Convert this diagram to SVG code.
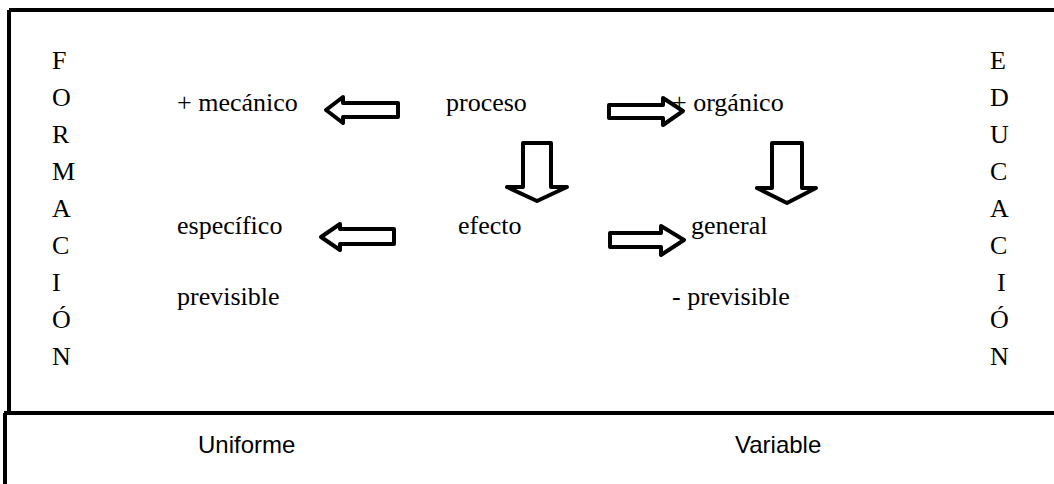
<svg xmlns="http://www.w3.org/2000/svg" width="1054" height="484" viewBox="0 0 1054 484">
<style>
.t{font-family:"Liberation Serif","Times New Roman",serif;font-size:26px;fill:#000}
.s{font-family:"Liberation Sans",Arial,sans-serif;font-size:24px;fill:#000}
.ar{fill:#fff;stroke:#000;stroke-width:4;stroke-linejoin:round}
.fr{stroke:#000;stroke-width:4;fill:none}
</style>
<rect width="1054" height="484" fill="#fff"/>
<g id="frame">
<line class="fr" x1="9" y1="10" x2="1054" y2="10"/>
<line class="fr" x1="9" y1="10" x2="9" y2="413"/>
<line class="fr" x1="4" y1="413" x2="1054" y2="413"/>
<line class="fr" x1="5" y1="413" x2="5" y2="484"/>
</g>
<g id="formacion" class="t">
<text x="52" y="69">F</text>
<text x="52" y="106">O</text>
<text x="52" y="143">R</text>
<text x="52" y="180">M</text>
<text x="52" y="217">A</text>
<text x="52" y="254">C</text>
<text x="52" y="291">I</text>
<text x="52" y="328">Ó</text>
<text x="52" y="365">N</text>
</g>
<g id="educacion" class="t">
<text x="990" y="69">E</text>
<text x="990" y="106">D</text>
<text x="990" y="143">U</text>
<text x="990" y="180">C</text>
<text x="990" y="217">A</text>
<text x="990" y="254">C</text>
<text x="997" y="291">I</text>
<text x="990" y="328">Ó</text>
<text x="990" y="365">N</text>
</g>
<g id="mecanico"><text class="t" x="177" y="111">+ mecánico</text></g>
<g id="proceso"><text class="t" x="446" y="111">proceso</text></g>
<g id="organico"><text class="t" x="672" y="111">+ orgánico</text></g>
<g id="especifico"><text class="t" x="177" y="234">específico</text></g>
<g id="efecto"><text class="t" x="458" y="234">efecto</text></g>
<g id="general"><text class="t" x="691" y="234">general</text></g>
<g id="previsible"><text class="t" x="177" y="305">previsible</text></g>
<g id="menos-previsible"><text class="t" x="672" y="305">- previsible</text></g>
<g id="uniforme"><text class="s" x="198" y="453">Uniforme</text></g>
<g id="variable"><text class="s" x="735" y="453">Variable</text></g>
<g id="connectors">
<path class="ar" d="M398,103 L343,103 L343,97 L326,110 L343,123 L343,117 L398,117 Z"/>
<path class="ar" d="M609,105 L663,105 L663,98 L683,111 L663,125 L663,118 L609,118 Z"/>
<path class="ar" d="M523,143 L551,143 L551,187 L567,187 L537,201 L507,187 L523,187 Z"/>
<path class="ar" d="M772,143 L802,143 L802,188 L816,188 L787,203 L757,188 L772,188 Z"/>
<path class="ar" d="M394,229 L340,229 L340,224 L321,237 L340,250 L340,244 L394,244 Z"/>
<path class="ar" d="M610,233 L661,233 L661,226 L684,240 L661,255 L661,247 L610,247 Z"/>
</g>
</svg>
